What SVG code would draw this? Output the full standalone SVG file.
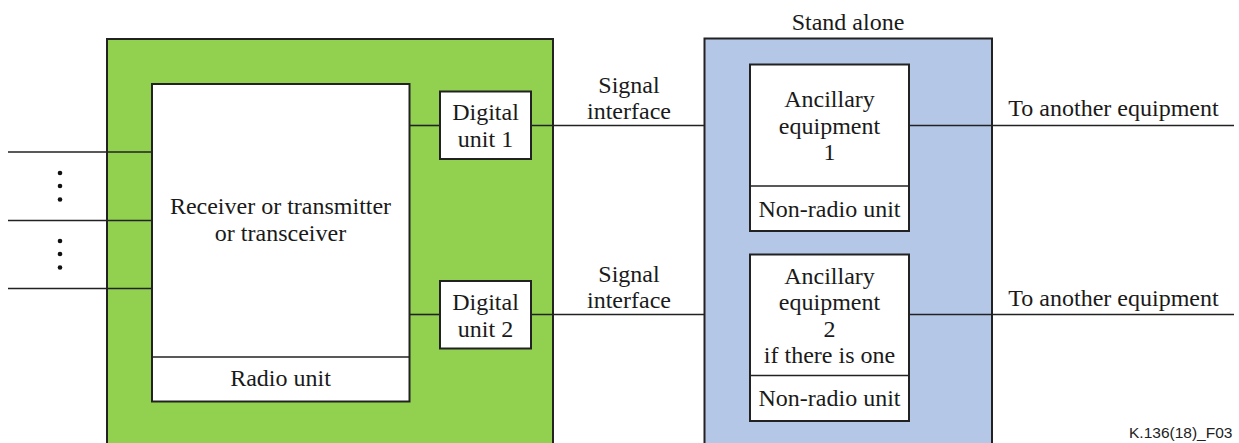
<svg xmlns="http://www.w3.org/2000/svg" width="1239" height="443" viewBox="0 0 1239 443">
  <style>
    .t { font-family: "Liberation Serif", "Times New Roman", serif; font-size: 24px; fill: #1a1a1a; text-anchor: middle; }
    .box { fill: #ffffff; stroke: #222222; stroke-width: 2; }
    .ln { stroke: #222222; stroke-width: 1.6; fill: none; }
    .note { font-family: "Liberation Sans", Arial, sans-serif; font-size: 15.5px; fill: #222222; }
  </style>
  <rect width="1239" height="443" fill="#ffffff"/>

  <g id="equipment-under-test">
    <rect x="107" y="39" width="446" height="420" fill="#92D050" stroke="#222222" stroke-width="2"/>
  </g>
  <g id="stand-alone">
    <rect x="704.5" y="38.5" width="287.5" height="420" fill="#B4C7E7" stroke="#222222" stroke-width="2"/>
    <text class="t" x="848" y="30">Stand alone</text>
  </g>

  <g id="connectors">
    <line class="ln" x1="8" y1="152" x2="152" y2="152"/>
    <line class="ln" x1="8" y1="220.5" x2="152" y2="220.5"/>
    <line class="ln" x1="8" y1="288.5" x2="152" y2="288.5"/>
    <line class="ln" x1="409.5" y1="125.5" x2="440" y2="125.5"/>
    <line class="ln" x1="409.5" y1="314.5" x2="440" y2="314.5"/>
    <line class="ln" x1="531" y1="125.5" x2="704.5" y2="125.5"/>
    <line class="ln" x1="531" y1="314.5" x2="704.5" y2="314.5"/>
    <line class="ln" x1="909" y1="125.5" x2="1234" y2="125.5"/>
    <line class="ln" x1="909" y1="314.5" x2="1234" y2="314.5"/>
  </g>

  <g id="dots" fill="#111111">
    <circle cx="60" cy="173" r="2.3"/>
    <circle cx="60" cy="186" r="2.3"/>
    <circle cx="60" cy="199.5" r="2.3"/>
    <circle cx="60" cy="241" r="2.3"/>
    <circle cx="60" cy="254" r="2.3"/>
    <circle cx="60" cy="267.5" r="2.3"/>
  </g>

  <g id="receiver">
    <rect class="box" x="152" y="84" width="257.5" height="317.5"/>
    <line class="ln" x1="152" y1="357" x2="409.5" y2="357" stroke-width="2"/>
    <text class="t" x="280.5" y="214">Receiver or transmitter</text>
    <text class="t" x="280.5" y="241">or transceiver</text>
    <text class="t" x="280.5" y="386">Radio unit</text>
  </g>

  <g id="digital-unit-1">
    <rect class="box" x="440" y="91.5" width="91" height="67.5"/>
    <text class="t" x="485.5" y="119.5">Digital</text>
    <text class="t" x="485.5" y="146.5">unit 1</text>
  </g>
  <g id="digital-unit-2">
    <rect class="box" x="440" y="281" width="91" height="67.5"/>
    <text class="t" x="485.5" y="310">Digital</text>
    <text class="t" x="485.5" y="336.5">unit 2</text>
  </g>

  <g id="signal-interface-labels">
    <text class="t" x="629" y="93">Signal</text>
    <text class="t" x="629" y="119">interface</text>
    <text class="t" x="629" y="282">Signal</text>
    <text class="t" x="629" y="308">interface</text>
  </g>

  <g id="ancillary-1">
    <rect class="box" x="750" y="64.5" width="159" height="166.5"/>
    <line class="ln" x1="750" y1="186" x2="909" y2="186" stroke-width="2"/>
    <text class="t" x="829.5" y="107">Ancillary</text>
    <text class="t" x="829.5" y="133.5">equipment</text>
    <text class="t" x="829.5" y="160">1</text>
    <text class="t" x="829.5" y="217">Non-radio unit</text>
  </g>
  <g id="ancillary-2">
    <rect class="box" x="750" y="254.5" width="159" height="166.5"/>
    <line class="ln" x1="750" y1="375.5" x2="909" y2="375.5" stroke-width="2"/>
    <text class="t" x="829.5" y="283.5">Ancillary</text>
    <text class="t" x="829.5" y="310">equipment</text>
    <text class="t" x="829.5" y="336.5">2</text>
    <text class="t" x="829.5" y="363">if there is one</text>
    <text class="t" x="829.5" y="406">Non-radio unit</text>
  </g>

  <g id="outputs">
    <text class="t" x="1113.5" y="116">To another equipment</text>
    <text class="t" x="1113.5" y="306">To another equipment</text>
  </g>

  <text class="note" x="1129" y="438">K.136(18)_F03</text>
</svg>
